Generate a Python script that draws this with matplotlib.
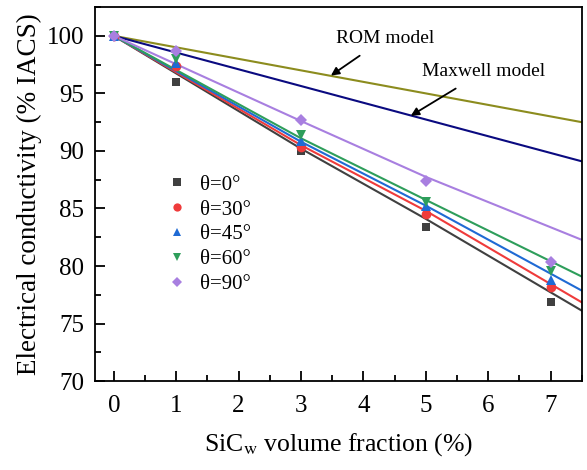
import matplotlib
matplotlib.use("Agg")
import matplotlib.pyplot as plt
from matplotlib.ticker import MultipleLocator

plt.rcParams['font.family'] = ['Liberation Serif', 'DejaVu Serif']
plt.rcParams['mathtext.fontset'] = 'stix'

# measured data
x_meas = [0, 1, 3, 5, 7]
labels = ["θ=0°", "θ=30°", "θ=45°", "θ=60°", "θ=90°"]
y_0 = [100, 95.95, 90.0, 83.4, 76.9]
y_30 = [100, 97.35, 90.35, 84.5, 78.15]
y_45 = [100, 97.6, 90.85, 85.2, 78.8]
y_60 = [100, 98.0, 91.4, 85.6, 79.55]
y_90 = [100, 98.65, 92.65, 87.4, 80.35]

# fitted curves
x_fit = [0, 3, 5, 7.5]
fit_0 = [100, 90.2, 84.1, 76.13]
fit_30 = [100, 90.5, 84.8, 76.85]
fit_45 = [100, 90.8, 85.25, 77.87]
fit_60 = [100, 91.1, 85.75, 79.09]
fit_90 = [100, 92.6, 87.75, 82.28]

# models
x_model = [0, 7.5]
rom = [100, 92.5]
maxwell = [100, 89.1]

colors = ["#404040", "#EF3B3B", "#1F6AD4", "#2E9E5B", "#A87FE0"]
markers = ["s", "o", "^", "v", "D"]
msizes = [6, 7, 7.5, 7.5, 6]

fig = plt.figure(figsize=(5.87, 4.70), dpi=100)
ax = fig.add_axes([0.162, 0.189, 0.829, 0.796])

series = [y_0, y_30, y_45, y_60, y_90]
fits = [fit_0, fit_30, fit_45, fit_60, fit_90]

ax.plot(x_model, rom, color="#8C8C1E", lw=1.5, zorder=2)
ax.plot(x_model, maxwell, color="#0A0A80", lw=1.5, zorder=2)
for f, c in zip(fits, colors):
    ax.plot(x_fit, f, color=c, lw=1.5, zorder=2)
for ys, c, m, ms, lab in zip(series, colors, markers, msizes, labels):
    ax.plot(x_meas, ys, linestyle="none", marker=m, color=c, ms=ms,
            markeredgewidth=0, label=lab, zorder=3)

ax.set_xlim(-0.3, 7.5)
ax.set_ylim(70, 102.5)
ax.xaxis.set_major_locator(MultipleLocator(1))
ax.xaxis.set_minor_locator(MultipleLocator(0.5))
ax.yaxis.set_major_locator(MultipleLocator(5))
ax.yaxis.set_minor_locator(MultipleLocator(2.5))
ax.tick_params(which="both", direction="in", labelsize=18, width=1.3)
ax.tick_params(which="major", length=7)
ax.tick_params(which="minor", length=4)
ax.tick_params(axis="x", pad=10)
ax.tick_params(axis="y", pad=8)
for s in ax.spines.values():
    s.set_linewidth(1.3)

ax.set_xlabel("SiC$_{\\mathrm{w}}$ volume fraction (%)", fontsize=18.5, labelpad=10)
ax.set_ylabel("Electrical conductivity (% IACS)", fontsize=19.5, labelpad=3)

leg = ax.legend(loc="center left", bbox_to_anchor=(0.108, 0.392), frameon=False,
                fontsize=15, handlelength=1.0, handletextpad=0.6,
                labelspacing=0.25, markerscale=0.85)

ax.annotate("ROM model", xy=(3.48, 96.55), xytext=(4.35, 99.8),
            fontsize=14, ha="center", va="center",
            arrowprops=dict(arrowstyle="-|>", color="black", lw=1.3,
                            mutation_scale=12, shrinkA=8, shrinkB=0))
ax.annotate("Maxwell model", xy=(4.76, 93.05), xytext=(5.93, 96.9),
            fontsize=14, ha="center", va="center",
            arrowprops=dict(arrowstyle="-|>", color="black", lw=1.3,
                            mutation_scale=12, shrinkA=8, shrinkB=0))

fig.savefig("out.png", dpi=100)
